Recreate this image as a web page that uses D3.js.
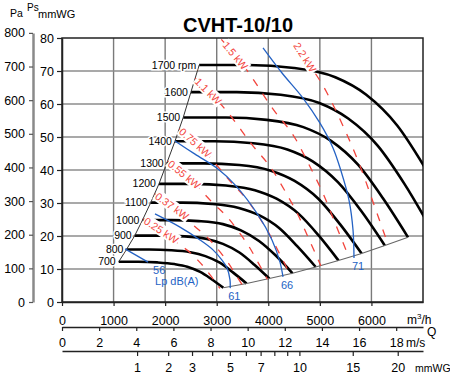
<!DOCTYPE html>
<html>
<head>
<meta charset="utf-8">
<script src="https://cdnjs.cloudflare.com/ajax/libs/d3/7.8.5/d3.min.js"></script>
<style>
body { margin: 0; background: #fff; }
svg { display: block; font-family: "Liberation Sans", Arial, sans-serif; }
</style>
</head>
<body>
<svg id="chart" width="450" height="375"></svg>
<script>
// ---- data: Q in m3/h, static pressure in mmWG ----
const rpmLabels = ["700", "800", "900", "1000", "1100", "1200", "1300", "1400", "1500", "1600", "1700 rpm"];

const curve700  = [[1100,12.2],[1480,12.2],[1850,12.0],[2180,11.5],[2430,10.7],[2680,9.1],[2900,6.9],[3130,4.3]];
const curve800  = [[1250,15.9],[1690,15.9],[2120,15.7],[2490,15.1],[2780,13.9],[3060,11.9],[3320,8.9],[3580,5.6]];
const curve900  = [[1410,20.1],[1910,20.1],[2380,19.9],[2810,19.1],[3120,17.6],[3440,15.0],[3730,11.3],[4020,7.1]];
const curve1000 = [[1560,24.8],[2120,24.8],[2650,24.5],[3120,23.6],[3470,21.7],[3820,18.5],[4150,14.0],[4470,8.7]];
const curve1100 = [[1720,30.1],[2330,30.1],[2910,29.7],[3430,28.5],[3820,26.3],[4210,22.4],[4560,16.9],[4920,10.6]];
const curve1200 = [[1880,35.8],[2540,35.8],[3180,35.3],[3740,33.9],[4160,31.3],[4590,26.7],[4980,20.1],[5360,12.6]];
const curve1300 = [[2030,42.0],[2750,42.0],[3440,41.5],[4050,39.8],[4510,36.7],[4970,31.3],[5390,23.6],[5810,14.7]];
const curve1400 = [[2190,48.7],[2960,48.7],[3710,48.1],[4370,46.2],[4860,42.6],[5350,36.3],[5810,27.4],[6260,17.1]];
const curve1500 = [[2350,55.9],[3180,55.9],[3970,55.2],[4680,53.0],[5210,48.9],[5740,41.6],[6220,31.5],[6710,19.6]];
const curve1600 = [[2500,63.6],[3390,63.6],[4240,62.8],[4990,60.3],[5550,55.6],[6120,47.4],[6640,35.8],[7150,22.3]];
const curve1700 = [[2660,71.8],[3600,71.8],[4500,70.9],[5300,68.1],[5900,62.8],[6500,53.5],[7050,40.4],[7600,25.2]];
const fanCurves = [curve700, curve800, curve900, curve1000, curve1100, curve1200,
                   curve1300, curve1400, curve1500, curve1600, curve1700];

const powerLabels = ["0.25 kW", "0.37 kW", "0.55 kW", "0.75 kW", "1.1 kW", "1.5 kW", "2.2 kW"];
const power025 = [[1577,25.2],[1963,21.4],[2250,17.7],[2483,15.0],[2637,12.6],[2790,9.9],[2928,7.0],[3063,4.1]];
const power037 = [[1797,32.8],[2238,27.8],[2565,23.0],[2831,19.4],[3005,16.3],[3180,12.8],[3337,9.1],[3490,5.3]];
const power055 = [[2051,42.7],[2554,36.1],[2926,30.0],[3229,25.3],[3430,21.2],[3630,16.7],[3808,11.8],[3983,6.9]];
const power075 = [[2274,52.5],[2832,44.5],[3245,36.9],[3581,31.1],[3804,26.1],[4024,20.5],[4223,14.5],[4417,8.5]];
const power110 = [[2584,67.8],[3218,57.4],[3687,47.6],[4071,40.2],[4321,33.7],[4573,26.5],[4798,18.7],[5019,11.0]];
const power150 = [[2865,83.3],[3569,70.6],[4089,58.5],[4529,49.4],[4793,41.5],[5070,32.6],[5319,23.0],[5565,13.5]];
const power220 = [[4054,91.1],[4645,75.6],[5127,63.7],[5445,53.5],[5761,42.0],[6045,29.7],[6323,17.4]];
const powerLines = [power025, power037, power055, power075, power110, power150, power220];

const soundLabels = ["56", "61", "66", "71"];
const sound56 = [[1222,16.1],[1668,12.1]];
const sound61 = [[1803,26.7],[2288,22.7],[2676,18.8],[2928,15.8],[3102,12.7],[3200,10.3],[3258,6.7],[3262,4.2]];
const sound66 = [[2191,48.8],[2579,44.8],[3025,40.3],[3355,35.5],[3801,26.4],[4072,18.8],[4227,12.1],[4285,7.6]];
const sound71 = [[3898,77.0],[4266,69.4],[4673,61.8],[5003,54.2],[5255,46.7],[5410,39.7],[5565,30.9],[5643,21.8],[5662,13.3]];
const soundLines = [sound56, sound61, sound66, sound71];

const flowTicks = [0, 1000, 2000, 3000, 4000, 5000, 6000];
const velocityTicks = [0, 2, 4, 6, 8, 10, 12, 14, 16, 18];
const dynamicTicks = [1, 2, 3, 4, 5, 6, 7, 8, 9, 10, 15, 20];
const dynamicLabels = [1, 2, 3, 5, 7, 10, 15, 20];
const staticTicks = [0, 10, 20, 30, 40, 50, 60, 70, 80];
const pascalTicks = [0, 100, 200, 300, 400, 500, 600, 700, 800];

class FanChart {

    constructor() {
        this.svg = d3.select("#chart");
        this.left = 62;
        this.right = 423;
        this.top = 38;
        this.bottom = 302;
        this.red = "#f2453d";
        this.blue = "#2462c4";
        this.font = 12.5;

        this.x = d3.scaleLinear().domain([0, 7000]).range([this.left, this.right]);
        this.y = d3.scaleLinear().domain([0, 80]).range([this.bottom, this.top]);
        // Pa axis: 1 mmWG = 9.81 Pa
        this.yPa = d3.scaleLinear().domain([0, 800]).range([this.y(0), this.y(800 / 9.81)]);
        // outlet 0.1 m2 -> m/s = Q / 360
        let vMax = 7000 / 360;
        this.xV = d3.scaleLinear().domain([0, vMax]).range([this.left, this.right]);
        // dynamic pressure in mmWG, rho = 1.2
        let pdMax = 0.5 * 1.2 * vMax * vMax / 9.81;
        this.xPd = d3.scaleSqrt().domain([0, pdMax]).range([this.left, this.right]);

        this.line = d3.line()
            .x(d => this.x(d[0]))
            .y(d => this.y(d[1]));

        this.drawGrid();
        this.drawAxes();
        this.drawCurves();
        this.drawPower();
        this.drawSound();
        this.drawLabels();
    }

    drawGrid() {
        let svg = this.svg;
        svg.append("defs").append("clipPath").attr("id", "plotClip")
            .append("rect")
            .attr("x", this.left).attr("y", this.top)
            .attr("width", this.right - this.left).attr("height", this.bottom - this.top);

        svg.append("g").selectAll("line")
            .data(flowTicks.slice(1))
            .join("line")
            .attr("x1", d => this.x(d)).attr("x2", d => this.x(d))
            .attr("y1", this.top).attr("y2", this.bottom)
            .attr("stroke", "#7a7a7a").attr("stroke-width", 1.4);

        svg.append("g").selectAll("line")
            .data(staticTicks.slice(1, -1))
            .join("line")
            .attr("x1", this.left).attr("x2", this.right)
            .attr("y1", d => this.y(d)).attr("y2", d => this.y(d))
            .attr("stroke", "#8c8c8c").attr("stroke-width", 1.6);

        svg.append("rect")
            .attr("x", this.left).attr("y", this.top)
            .attr("width", this.right - this.left).attr("height", this.bottom - this.top)
            .attr("fill", "none").attr("stroke", "#222").attr("stroke-width", 1.5);
    }

    styleAxis(g, size) {
        g.attr("font-family", null).attr("font-size", size);
        g.selectAll(".domain").attr("stroke", "#222").attr("stroke-width", 1.5);
        g.selectAll(".tick line").attr("stroke", "#222").attr("stroke-width", 1.2);
    }

    drawAxes() {
        let svg = this.svg;

        // Pa axis
        let gPa = svg.append("g").attr("transform", "translate(33,0)")
            .call(d3.axisLeft(this.yPa).tickValues(pascalTicks).tickSize(4).tickSizeOuter(0).tickPadding(4));
        this.styleAxis(gPa, this.font);
        gPa.select(".domain").attr("stroke", "#8a8a8a").attr("stroke-width", 2.5);
        gPa.selectAll(".tick line").attr("stroke", "#555");

        // mmWG axis
        let gS = svg.append("g").attr("transform", `translate(${this.left},0)`)
            .call(d3.axisLeft(this.y).tickValues(staticTicks).tickSize(5).tickSizeOuter(0).tickPadding(3));
        this.styleAxis(gS, this.font);

        // flow axis
        let gQ = svg.append("g").attr("transform", `translate(0,${this.bottom})`)
            .call(d3.axisBottom(this.x).tickValues(flowTicks).tickSize(4).tickSizeOuter(0).tickPadding(10)
                .tickFormat(d => d));
        this.styleAxis(gQ, this.font);

        // velocity axis
        let gV = svg.append("g").attr("transform", "translate(0,327)")
            .call(d3.axisBottom(this.xV).tickValues(velocityTicks).tickSize(4).tickSizeOuter(0).tickPadding(7));
        this.styleAxis(gV, this.font);

        // dynamic pressure axis
        let gD = svg.append("g").attr("transform", "translate(0,351)")
            .call(d3.axisBottom(this.xPd).tickValues(dynamicTicks).tickSize(5).tickSizeOuter(0).tickPadding(7)
                .tickFormat(d => dynamicLabels.includes(d) ? d : ""));
        this.styleAxis(gD, this.font);

        // unit labels
        let unit = svg.append("text").attr("x", 407).attr("y", 324).attr("font-size", 12);
        unit.append("tspan").text("m");
        unit.append("tspan").attr("dy", -5).attr("font-size", 8).text("3");
        unit.append("tspan").attr("dy", 5).text("/h");
        svg.append("text").attr("x", 427).attr("y", 336).attr("font-size", 12).text("Q");
        svg.append("text").attr("x", 406).attr("y", 347).attr("font-size", 12).text("m/s");
        svg.append("text").attr("x", 415).attr("y", 372).attr("font-size", 10.5).text("mmWG");

        svg.append("text").attr("x", 10).attr("y", 17).attr("font-size", 10.5).text("Pa");
        svg.append("text").attr("x", 27).attr("y", 11).attr("font-size", 10).text("Ps");
        svg.append("text").attr("x", 38).attr("y", 18).attr("font-size", 11).text("mmWG");

        svg.append("text")
            .attr("x", 238).attr("y", 32)
            .attr("text-anchor", "middle")
            .attr("font-size", 20).attr("font-weight", "bold")
            .text("CVHT-10/10");
    }

    drawCurves() {
        let that = this;
        let g = this.svg.append("g").attr("clip-path", "url(#plotClip)");

        g.selectAll("path.fan")
            .data(fanCurves)
            .join("path")
            .attr("class", "fan")
            .attr("d", d => d3.line().x(p => that.x(p[0])).y(p => that.y(p[1])).curve(d3.curveMonotoneX)(d))
            .attr("fill", "none").attr("stroke", "#000").attr("stroke-width", 2.6);

        // start locus and end boundary
        let starts = fanCurves.map(c => c[0]);
        let ends = fanCurves.map(c => c[c.length - 1]).filter(p => p[0] <= 7000);
        g.append("path").attr("d", this.line(starts))
            .attr("fill", "none").attr("stroke", "#333").attr("stroke-width", 1);
        g.append("path").attr("d", this.line(ends))
            .attr("fill", "none").attr("stroke", "#666").attr("stroke-width", 1.1);
    }

    drawPower() {
        let that = this;
        let g = this.svg.append("g").attr("clip-path", "url(#plotClip)");
        let lineGen = d3.line().x(p => that.x(p[0])).y(p => that.y(p[1])).curve(d3.curveMonotoneX);

        let paths = g.selectAll("path.power")
            .data(powerLines)
            .join("path")
            .attr("class", "power")
            .attr("d", lineGen)
            .attr("fill", "none")
            .attr("stroke", this.red).attr("stroke-width", 1.3)
            .attr("stroke-dasharray", "8,9");

        // labels sit on the line where it enters the plot
        let labels = this.svg.append("g");
        paths.each(function(d, i) {
            let node = this;
            let total = node.getTotalLength();
            let L = 0;
            while (L < total && node.getPointAtLength(L).y < that.top + 3) L += 1;
            let p0 = node.getPointAtLength(L + 1);
            let p1 = node.getPointAtLength(L + 28);
            let ang = Math.atan2(p1.y - p0.y, p1.x - p0.x) * 180 / Math.PI;

            let lg = labels.append("g")
                .attr("transform", `translate(${p0.x},${p0.y}) rotate(${ang})`);
            let t = lg.append("text")
                .attr("x", 1).attr("dy", "0.35em")
                .attr("font-size", 10.5)
                .attr("fill", that.red)
                .text(powerLabels[i]);
            let bb = t.node().getBBox();
            lg.insert("rect", "text")
                .attr("x", bb.x - 1).attr("y", bb.y)
                .attr("width", bb.width + 2).attr("height", bb.height)
                .attr("fill", "#fff");
        });
    }

    drawSound() {
        let that = this;
        let g = this.svg.append("g");
        let lineGen = d3.line().x(p => that.x(p[0])).y(p => that.y(p[1])).curve(d3.curveCatmullRom);

        g.selectAll("path.sound")
            .data(soundLines)
            .join("path")
            .attr("class", "sound")
            .attr("d", lineGen)
            .attr("fill", "none").attr("stroke", this.blue).attr("stroke-width", 1.3);

        soundLines.forEach((line, i) => {
            let end = line[line.length - 1];
            let dx = i === 0 ? 5 : -2;
            g.append("text")
                .attr("x", that.x(end[0]) + dx).attr("y", that.y(end[1]) + 12)
                .attr("font-size", 11).attr("fill", that.blue)
                .text(soundLabels[i]);
            if (i === 0) {
                g.append("text")
                    .attr("x", that.x(end[0]) + 7).attr("y", that.y(end[1]) + 23)
                    .attr("font-size", 11).attr("fill", that.blue)
                    .text("Lp dB(A)");
            }
        });
    }

    drawLabels() {
        let that = this;
        this.svg.append("g").selectAll("text")
            .data(fanCurves)
            .join("text")
            .attr("x", d => that.x(d[0][0]) - 3)
            .attr("y", d => that.y(d[0][1]) + 3.5)
            .attr("text-anchor", "end")
            .attr("font-size", 10.5)
            .attr("stroke", "#fff").attr("stroke-width", 3)
            .attr("paint-order", "stroke")
            .text((d, i) => rpmLabels[i]);
    }
}

new FanChart();
</script>
</body>
</html>
